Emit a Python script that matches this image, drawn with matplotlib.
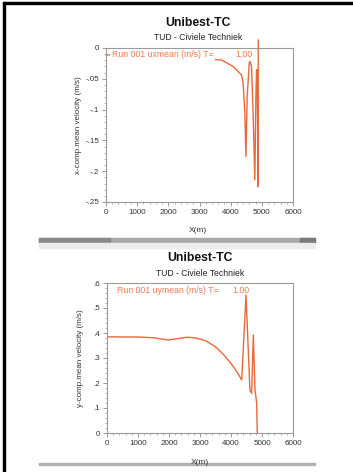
import matplotlib
matplotlib.use("Agg")
import matplotlib.pyplot as plt
from matplotlib.patches import Rectangle
from matplotlib.ticker import MultipleLocator, AutoMinorLocator, FuncFormatter

plt.rcParams['font.family'] = ['Liberation Sans', 'DejaVu Sans']

# bovenste grafiek: x-component gemiddelde snelheid
x_ux = [0, 1000, 2000, 3000, 3710, 4080, 4350, 4400, 4455, 4490, 4530, 4595, 4620,
        4670, 4720, 4775, 4810, 4830, 4850, 4880, 4885]
ux = [-0.011, -0.013, -0.015, -0.017, -0.0195, -0.030, -0.044, -0.057, -0.106, -0.176,
      -0.079, -0.025, -0.022, -0.030, -0.106, -0.214, -0.079, -0.036, -0.035, -0.225, 0.013]

# onderste grafiek: y-component gemiddelde snelheid
x_uy = [0, 500, 1000, 1500, 1750, 1970, 2250, 2570, 2800, 3000, 3200, 3500, 3750,
        4000, 4200, 4345, 4484, 4610, 4667, 4720, 4774, 4828, 4848]
uy = [0.385, 0.384, 0.384, 0.381, 0.376, 0.372, 0.377, 0.383, 0.381, 0.376, 0.368,
      0.345, 0.315, 0.278, 0.243, 0.212, 0.552, 0.172, 0.159, 0.392, 0.172, 0.120, 0.0]

xticks = [0, 1000, 2000, 3000, 4000, 5000, 6000]
lijn_kleur = '#e8683a'
tekst_kleur = '#f07a52'

W, H = 353, 472
fig = plt.figure(figsize=(W / 100, H / 100), dpi=100)


def px(x0, y0, x1, y1):
    # pixelcoordinaten (boven-links) naar figuurfracties
    return (x0 / W, 1 - y1 / H, (x1 - x0) / W, (y1 - y0) / H)


def blok(x0, y0, x1, y1, kleur):
    fig.patches.append(Rectangle(px(x0, y0, x1, y1)[:2], (x1 - x0) / W, (y1 - y0) / H,
                                 transform=fig.transFigure, color=kleur, zorder=0))


def kaal(v, pos):
    if abs(v) < 1e-9:
        return '0'
    return ('%g' % v).replace('0.', '.')


def opmaak(ax, ylim, ystep):
    ax.set_xlim(0, 6000)
    ax.set_ylim(*ylim)
    ax.set_xticks(xticks)
    ax.yaxis.set_major_locator(MultipleLocator(ystep))
    ax.xaxis.set_minor_locator(AutoMinorLocator(5))
    ax.yaxis.set_minor_locator(AutoMinorLocator(5))
    ax.yaxis.set_major_formatter(FuncFormatter(kaal))
    for s in ax.spines.values():
        s.set_color('#9a9a9a')
        s.set_linewidth(0.8)
    ax.tick_params(which='major', length=3, width=0.6, color='#888888',
                   labelsize=5.8, labelcolor='#333333', pad=2)
    ax.tick_params(which='minor', length=1.5, width=0.5, color='#999999')


# buitenkader
blok(3, 2, 5, H, 'black')
blok(3, 2, W, 4, 'black')

# venstertitelbalk van de tweede schermafdruk
blok(39, 238, 315, 243, '#a8a8a8')
blok(39, 238, 110, 243, '#8a8a8a')
blok(300, 238, 315, 243, '#7a7a7a')
blok(39, 243, 315, 248, '#ececec')
blok(39, 463, 315, 465, '#b0b0b0')

# bovenste grafiek
ax1 = fig.add_axes(px(106, 48, 293, 202))
ax1.plot(x_ux, ux, color=lijn_kleur, lw=1.0, clip_on=False)
opmaak(ax1, (-0.25, 0), 0.05)
ax1.set_ylabel('x-comp.mean velocity (m/s)', fontsize=5.8, color='#333333', labelpad=2)
ax1.text(0.03, 0.955, 'Run 001 uxmean (m/s) T=', transform=ax1.transAxes, fontsize=6.3,
         color=tekst_kleur, va='center', ha='left',
         bbox=dict(facecolor='white', edgecolor='none', pad=1.2))
ax1.text(0.69, 0.955, '1.00', transform=ax1.transAxes, fontsize=6.3,
         color=tekst_kleur, va='center', ha='left')
fig.text(198 / W, 1 - 23 / H, 'Unibest-TC', fontsize=8.8, fontweight='bold',
         ha='center', va='center', color='#111111')
fig.text(198 / W, 1 - 38 / H, 'TUD - Civiele Techniek', fontsize=6.2,
         ha='center', va='center', color='#222222')
fig.text(198 / W, 1 - 230 / H, 'X(m)', fontsize=6, ha='center', va='center', color='#333333')

# onderste grafiek
ax2 = fig.add_axes(px(107, 283, 293, 433))
ax2.plot(x_uy, uy, color=lijn_kleur, lw=1.0)
opmaak(ax2, (0, 0.6), 0.1)
ax2.set_ylabel('y-comp.mean velocity (m/s)', fontsize=5.8, color='#333333', labelpad=7)
ax2.text(0.055, 0.953, 'Run 001 uymean (m/s) T=', transform=ax2.transAxes, fontsize=6.3,
         color=tekst_kleur, va='center', ha='left')
ax2.text(0.672, 0.953, '1.00', transform=ax2.transAxes, fontsize=6.3,
         color=tekst_kleur, va='center', ha='left')
fig.text(200 / W, 1 - 258 / H, 'Unibest-TC', fontsize=8.8, fontweight='bold',
         ha='center', va='center', color='#111111')
fig.text(200 / W, 1 - 274 / H, 'TUD - Civiele Techniek', fontsize=6.2,
         ha='center', va='center', color='#222222')
fig.text(200 / W, 1 - 463 / H, 'X(m)', fontsize=6, ha='center', va='center', color='#333333')

fig.savefig('out.png', dpi=100)
